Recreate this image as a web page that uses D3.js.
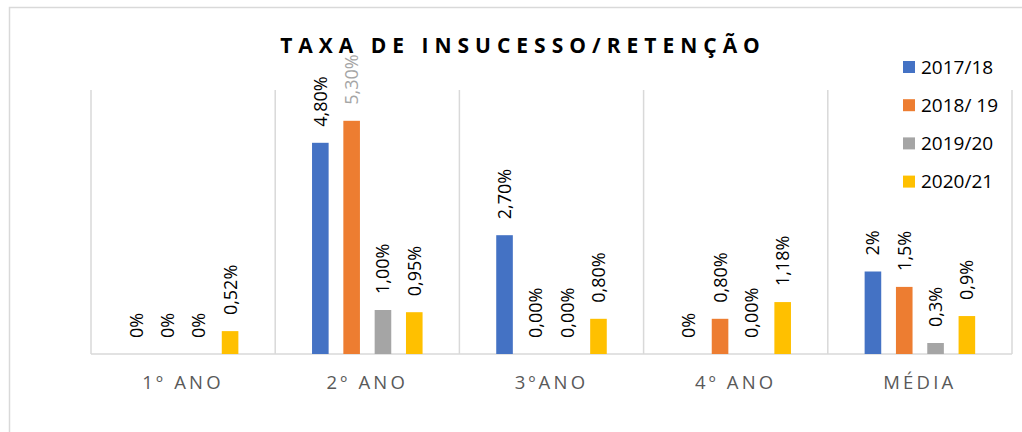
<!DOCTYPE html>
<meta charset="utf-8">
<style>
  body { margin: 0; background: #fff; }
  svg text { font-family: "Open Sans", "Noto Sans", sans-serif; }
</style>
<body>
<div id="chart"></div>
<script src="https://d3js.org/d3.v7.min.js"></script>
<script>
    // data
    var categories = ["1º ANO", "2º ANO", "3ºANO", "4º ANO", "MÉDIA"];
    var seriesNames = ["2017/18", "2018/ 19", "2019/20", "2020/21"];
    var values2017 = [0, 4.8, 2.7, 0, 1.875];
    var values2018 = [0, 5.3, 0, 0.8, 1.525];
    var values2019 = [0, 1.0, 0, 0, 0.25];
    var values2020 = [0.52, 0.95, 0.8, 1.18, 0.8625];
    var labels2017 = ["0%", "4,80%", "2,70%", "0%", "2%"];
    var labels2018 = ["0%", "5,30%", "0,00%", "0,80%", "1,5%"];
    var labels2019 = ["0%", "1,00%", "0,00%", "0,00%", "0,3%"];
    var labels2020 = ["0,52%", "0,95%", "0,80%", "1,18%", "0,9%"];
    var yDomain = [0, 6];

    var allValues = [values2017, values2018, values2019, values2020];
    var allLabels = [labels2017, labels2018, labels2019, labels2020];
    var colors = ["#4472C4", "#ED7D31", "#A5A5A5", "#FFC000"];

    var width = 1022, height = 432;

    var svg = d3.select("#chart").append("svg")
        .attr("width", width)
        .attr("height", height);

    // chart area border
    svg.append("rect")
        .attr("x", 9.5).attr("y", 7.5)
        .attr("width", width + 20).attr("height", height + 20)
        .attr("fill", "#fff")
        .attr("stroke", "#d9d9d9")
        .attr("stroke-width", 1.5);

    // scales
    var x0 = d3.scaleBand().domain(categories).range([91, 1012]).padding(0);
    var bw = x0.bandwidth();
    var x1 = d3.scaleBand().domain(d3.range(4))
        .range([bw * 0.16, bw * 0.84])
        .paddingInner(0.47).paddingOuter(0.235);
    var y = d3.scaleLinear().domain(yDomain).range([354, 90]);

    // vertical gridlines between categories
    var bounds = categories.map(function(c) { return x0(c); }).concat([x0.range()[1]]);
    svg.selectAll(".grid")
        .data(bounds)
        .enter().append("line")
        .attr("x1", function(d) { return d; })
        .attr("x2", function(d) { return d; })
        .attr("y1", y(yDomain[1]))
        .attr("y2", y(0))
        .attr("stroke", "#d9d9d9")
        .attr("stroke-width", 1.5);

    // baseline
    svg.append("line")
        .attr("x1", x0.range()[0]).attr("x2", x0.range()[1])
        .attr("y1", y(0)).attr("y2", y(0))
        .attr("stroke", "#d9d9d9")
        .attr("stroke-width", 1.5);

    // build rows for bars
    var rows = [];
    categories.forEach(function(c, i) {
        allValues.forEach(function(vals, s) {
            rows.push({cat: c, s: s, v: vals[i], label: allLabels[s][i]});
        });
    });

    svg.selectAll(".bar")
        .data(rows)
        .enter().append("rect")
        .attr("x", function(d) { return x0(d.cat) + x1(d.s); })
        .attr("y", function(d) { return y(d.v); })
        .attr("width", x1.bandwidth())
        .attr("height", function(d) { return y(0) - y(d.v); })
        .attr("fill", function(d) { return colors[d.s]; });

    // data labels, rotated
    svg.selectAll(".lbl")
        .data(rows)
        .enter().append("text")
        .attr("transform", function(d) {
            var cx = x0(d.cat) + x1(d.s) + x1.bandwidth() / 2;
            return "translate(" + cx + "," + (y(d.v) - 16) + ") rotate(-90)";
        })
        .attr("dy", "0.36em")
        .attr("text-anchor", "start")
        .style("font-size", "18px")
        .attr("fill", function(d) { return (d.s === 1 && d.cat === "2º ANO") ? "#a5a5a5" : "#000"; })
        .text(function(d) { return d.label; });

    // category labels
    svg.selectAll(".cat")
        .data(categories)
        .enter().append("text")
        .attr("x", function(d) { return x0(d) + bw / 2; })
        .attr("y", 389)
        .attr("text-anchor", "middle")
        .attr("fill", "#595959")
        .style("font-size", "18.5px")
        .style("letter-spacing", "3.2px")
        .text(function(d) { return d; });

    // title
    svg.append("text")
        .attr("x", 523)
        .attr("y", 53)
        .attr("text-anchor", "middle")
        .attr("fill", "#000")
        .style("font-size", "21px")
        .style("font-weight", "bold")
        .style("letter-spacing", "6px")
        .text("TAXA DE INSUCESSO/RETENÇÃO");

    // legend
    var legend = svg.selectAll(".legend")
        .data(seriesNames)
        .enter().append("g")
        .attr("transform", function(d, i) { return "translate(903," + (61 + i * 38.2) + ")"; });
    legend.append("rect")
        .attr("width", 12).attr("height", 12)
        .attr("fill", function(d, i) { return colors[i]; });
    legend.append("text")
        .attr("x", 18).attr("y", 12.5)
        .attr("fill", "#000")
        .style("font-size", "19px")
        .text(function(d) { return d; });
</script>
</body>
